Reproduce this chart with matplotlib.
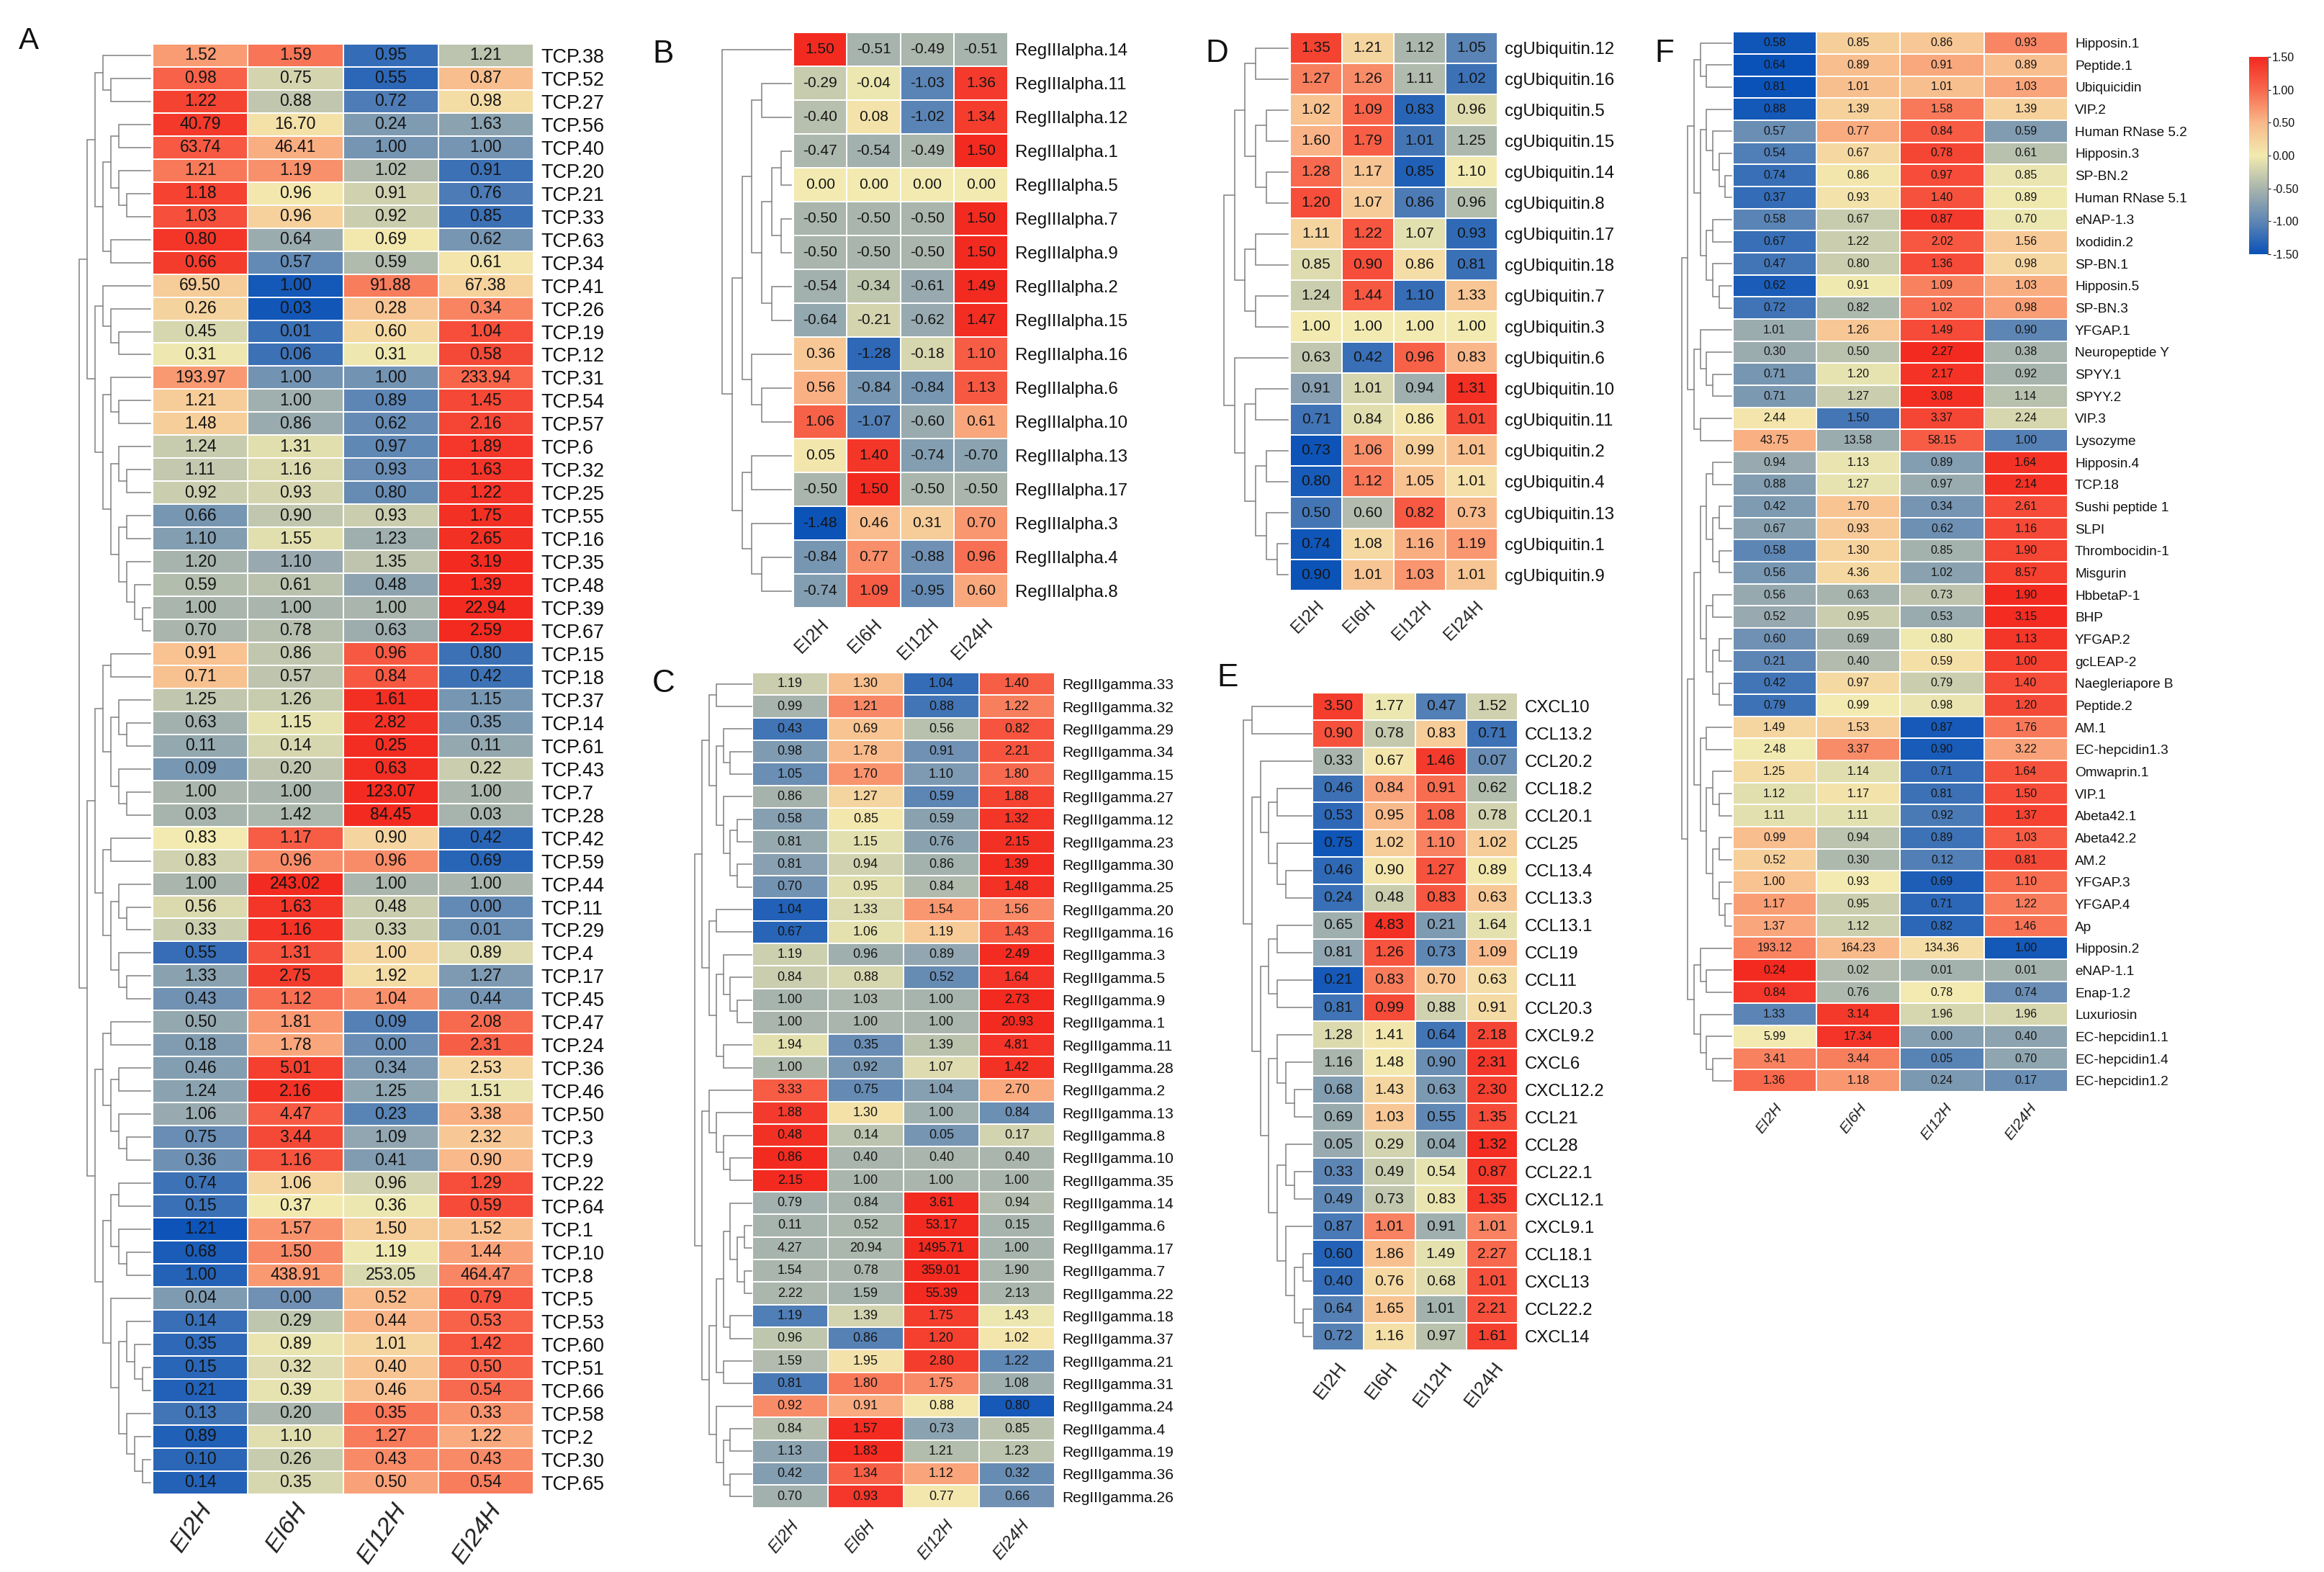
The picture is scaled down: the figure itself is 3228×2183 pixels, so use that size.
import numpy as np
import matplotlib
matplotlib.use("Agg")
import matplotlib.pyplot as plt
from matplotlib.colors import LinearSegmentedColormap
from matplotlib.transforms import ScaledTranslation

plt.rcParams['font.family'] = ['Liberation Sans', 'DejaVu Sans']

W, H, DPI = 3228, 2183, 100
conditions = ["EI2H", "EI6H", "EI12H", "EI24H"]

labels_a = ["TCP.%d" % i for i in [38,52,27,56,40,20,21,33,63,34,41,26,19,12,31,54,57,6,32,25,55,16,35,48,39,67,15,18,37,14,61,43,7,28,42,59,44,11,29,4,17,45,47,24,36,46,50,3,9,22,64,1,10,8,5,53,60,51,66,58,2,30,65]]
values_a = [
 [1.52,1.59,0.95,1.21],[0.98,0.75,0.55,0.87],[1.22,0.88,0.72,0.98],[40.79,16.70,0.24,1.63],[63.74,46.41,1.00,1.00],
 [1.21,1.19,1.02,0.91],[1.18,0.96,0.91,0.76],[1.03,0.96,0.92,0.85],[0.80,0.64,0.69,0.62],[0.66,0.57,0.59,0.61],
 [69.50,1.00,91.88,67.38],[0.26,0.03,0.28,0.34],[0.45,0.01,0.60,1.04],[0.31,0.06,0.31,0.58],[193.97,1.00,1.00,233.94],
 [1.21,1.00,0.89,1.45],[1.48,0.86,0.62,2.16],[1.24,1.31,0.97,1.89],[1.11,1.16,0.93,1.63],[0.92,0.93,0.80,1.22],
 [0.66,0.90,0.93,1.75],[1.10,1.55,1.23,2.65],[1.20,1.10,1.35,3.19],[0.59,0.61,0.48,1.39],[1.00,1.00,1.00,22.94],
 [0.70,0.78,0.63,2.59],[0.91,0.86,0.96,0.80],[0.71,0.57,0.84,0.42],[1.25,1.26,1.61,1.15],[0.63,1.15,2.82,0.35],
 [0.11,0.14,0.25,0.11],[0.09,0.20,0.63,0.22],[1.00,1.00,123.07,1.00],[0.03,1.42,84.45,0.03],[0.83,1.17,0.90,0.42],
 [0.83,0.96,0.96,0.69],[1.00,243.02,1.00,1.00],[0.56,1.63,0.48,0.00],[0.33,1.16,0.33,0.01],[0.55,1.31,1.00,0.89],
 [1.33,2.75,1.92,1.27],[0.43,1.12,1.04,0.44],[0.50,1.81,0.09,2.08],[0.18,1.78,0.00,2.31],[0.46,5.01,0.34,2.53],
 [1.24,2.16,1.25,1.51],[1.06,4.47,0.23,3.38],[0.75,3.44,1.09,2.32],[0.36,1.16,0.41,0.90],[0.74,1.06,0.96,1.29],
 [0.15,0.37,0.36,0.59],[1.21,1.57,1.50,1.52],[0.68,1.50,1.19,1.44],[1.00,438.91,253.05,464.47],[0.04,0.00,0.52,0.79],
 [0.14,0.29,0.44,0.53],[0.35,0.89,1.01,1.42],[0.15,0.32,0.40,0.50],[0.21,0.39,0.46,0.54],[0.13,0.20,0.35,0.33],
 [0.89,1.10,1.27,1.22],[0.10,0.26,0.43,0.43],[0.14,0.35,0.50,0.54]]

labels_b = ["RegIIIalpha.%d" % i for i in [14,11,12,1,5,7,9,2,15,16,6,10,13,17,3,4,8]]
values_b = [
 [1.50,-0.51,-0.49,-0.51],[-0.29,-0.04,-1.03,1.36],[-0.40,0.08,-1.02,1.34],[-0.47,-0.54,-0.49,1.50],[0.00,0.00,0.00,0.00],
 [-0.50,-0.50,-0.50,1.50],[-0.50,-0.50,-0.50,1.50],[-0.54,-0.34,-0.61,1.49],[-0.64,-0.21,-0.62,1.47],[0.36,-1.28,-0.18,1.10],
 [0.56,-0.84,-0.84,1.13],[1.06,-1.07,-0.60,0.61],[0.05,1.40,-0.74,-0.70],[-0.50,1.50,-0.50,-0.50],[-1.48,0.46,0.31,0.70],
 [-0.84,0.77,-0.88,0.96],[-0.74,1.09,-0.95,0.60]]

labels_c = ["RegIIIgamma.%d" % i for i in [33,32,29,34,15,27,12,23,30,25,20,16,3,5,9,1,11,28,2,13,8,10,35,14,6,17,7,22,18,37,21,31,24,4,19,36,26]]
values_c = [
 [1.19,1.30,1.04,1.40],[0.99,1.21,0.88,1.22],[0.43,0.69,0.56,0.82],[0.98,1.78,0.91,2.21],[1.05,1.70,1.10,1.80],
 [0.86,1.27,0.59,1.88],[0.58,0.85,0.59,1.32],[0.81,1.15,0.76,2.15],[0.81,0.94,0.86,1.39],[0.70,0.95,0.84,1.48],
 [1.04,1.33,1.54,1.56],[0.67,1.06,1.19,1.43],[1.19,0.96,0.89,2.49],[0.84,0.88,0.52,1.64],[1.00,1.03,1.00,2.73],
 [1.00,1.00,1.00,20.93],[1.94,0.35,1.39,4.81],[1.00,0.92,1.07,1.42],[3.33,0.75,1.04,2.70],[1.88,1.30,1.00,0.84],
 [0.48,0.14,0.05,0.17],[0.86,0.40,0.40,0.40],[2.15,1.00,1.00,1.00],[0.79,0.84,3.61,0.94],[0.11,0.52,53.17,0.15],
 [4.27,20.94,1495.71,1.00],[1.54,0.78,359.01,1.90],[2.22,1.59,55.39,2.13],[1.19,1.39,1.75,1.43],[0.96,0.86,1.20,1.02],
 [1.59,1.95,2.80,1.22],[0.81,1.80,1.75,1.08],[0.92,0.91,0.88,0.80],[0.84,1.57,0.73,0.85],[1.13,1.83,1.21,1.23],
 [0.42,1.34,1.12,0.32],[0.70,0.93,0.77,0.66]]

labels_d = ["cgUbiquitin.%d" % i for i in [12,16,5,15,14,8,17,18,7,3,6,10,11,2,4,13,1,9]]
values_d = [
 [1.35,1.21,1.12,1.05],[1.27,1.26,1.11,1.02],[1.02,1.09,0.83,0.96],[1.60,1.79,1.01,1.25],[1.28,1.17,0.85,1.10],
 [1.20,1.07,0.86,0.96],[1.11,1.22,1.07,0.93],[0.85,0.90,0.86,0.81],[1.24,1.44,1.10,1.33],[1.00,1.00,1.00,1.00],
 [0.63,0.42,0.96,0.83],[0.91,1.01,0.94,1.31],[0.71,0.84,0.86,1.01],[0.73,1.06,0.99,1.01],[0.80,1.12,1.05,1.01],
 [0.50,0.60,0.82,0.73],[0.74,1.08,1.16,1.19],[0.90,1.01,1.03,1.01]]

labels_e = ["CXCL10","CCL13.2","CCL20.2","CCL18.2","CCL20.1","CCL25","CCL13.4","CCL13.3","CCL13.1","CCL19","CCL11","CCL20.3",
            "CXCL9.2","CXCL6","CXCL12.2","CCL21","CCL28","CCL22.1","CXCL12.1","CXCL9.1","CCL18.1","CXCL13","CCL22.2","CXCL14"]
values_e = [
 [3.50,1.77,0.47,1.52],[0.90,0.78,0.83,0.71],[0.33,0.67,1.46,0.07],[0.46,0.84,0.91,0.62],[0.53,0.95,1.08,0.78],
 [0.75,1.02,1.10,1.02],[0.46,0.90,1.27,0.89],[0.24,0.48,0.83,0.63],[0.65,4.83,0.21,1.64],[0.81,1.26,0.73,1.09],
 [0.21,0.83,0.70,0.63],[0.81,0.99,0.88,0.91],[1.28,1.41,0.64,2.18],[1.16,1.48,0.90,2.31],[0.68,1.43,0.63,2.30],
 [0.69,1.03,0.55,1.35],[0.05,0.29,0.04,1.32],[0.33,0.49,0.54,0.87],[0.49,0.73,0.83,1.35],[0.87,1.01,0.91,1.01],
 [0.60,1.86,1.49,2.27],[0.40,0.76,0.68,1.01],[0.64,1.65,1.01,2.21],[0.72,1.16,0.97,1.61]]

labels_f = ["Hipposin.1","Peptide.1","Ubiquicidin","VIP.2","Human RNase 5.2","Hipposin.3","SP-BN.2","Human RNase 5.1","eNAP-1.3",
            "Ixodidin.2","SP-BN.1","Hipposin.5","SP-BN.3","YFGAP.1","Neuropeptide Y","SPYY.1","SPYY.2","VIP.3","Lysozyme",
            "Hipposin.4","TCP.18","Sushi peptide 1","SLPI","Thrombocidin-1","Misgurin","HbbetaP-1","BHP","YFGAP.2","gcLEAP-2",
            "Naegleriapore B","Peptide.2","AM.1","EC-hepcidin1.3","Omwaprin.1","VIP.1","Abeta42.1","Abeta42.2","AM.2","YFGAP.3",
            "YFGAP.4","Ap","Hipposin.2","eNAP-1.1","Enap-1.2","Luxuriosin","EC-hepcidin1.1","EC-hepcidin1.4","EC-hepcidin1.2"]
values_f = [
 [0.58,0.85,0.86,0.93],[0.64,0.89,0.91,0.89],[0.81,1.01,1.01,1.03],[0.88,1.39,1.58,1.39],[0.57,0.77,0.84,0.59],
 [0.54,0.67,0.78,0.61],[0.74,0.86,0.97,0.85],[0.37,0.93,1.40,0.89],[0.58,0.67,0.87,0.70],[0.67,1.22,2.02,1.56],
 [0.47,0.80,1.36,0.98],[0.62,0.91,1.09,1.03],[0.72,0.82,1.02,0.98],[1.01,1.26,1.49,0.90],[0.30,0.50,2.27,0.38],
 [0.71,1.20,2.17,0.92],[0.71,1.27,3.08,1.14],[2.44,1.50,3.37,2.24],[43.75,13.58,58.15,1.00],[0.94,1.13,0.89,1.64],
 [0.88,1.27,0.97,2.14],[0.42,1.70,0.34,2.61],[0.67,0.93,0.62,1.16],[0.58,1.30,0.85,1.90],[0.56,4.36,1.02,8.57],
 [0.56,0.63,0.73,1.90],[0.52,0.95,0.53,3.15],[0.60,0.69,0.80,1.13],[0.21,0.40,0.59,1.00],[0.42,0.97,0.79,1.40],
 [0.79,0.99,0.98,1.20],[1.49,1.53,0.87,1.76],[2.48,3.37,0.90,3.22],[1.25,1.14,0.71,1.64],[1.12,1.17,0.81,1.50],
 [1.11,1.11,0.92,1.37],[0.99,0.94,0.89,1.03],[0.52,0.30,0.12,0.81],[1.00,0.93,0.69,1.10],[1.17,0.95,0.71,1.22],
 [1.37,1.12,0.82,1.46],[193.12,164.23,134.36,1.00],[0.24,0.02,0.01,0.01],[0.84,0.76,0.78,0.74],[1.33,3.14,1.96,1.96],
 [5.99,17.34,0.00,0.40],[3.41,3.44,0.05,0.70],[1.36,1.18,0.24,0.17]]

# Cluster trees: (merge level, child, child); 0 is the next leaf, top to bottom.
tree_a = (9,
 (8,(7,(6,0,(5,0,0)),(6,(5,(4,0,0),(4,0,(3,0,0))),(5,0,0))),
    (7,(6,0,(5,0,(4,0,0))),(6,(5,0,(4,0,0)),(5,(4,0,(3,0,0)),(4,(3,0,0),(3,0,(2,0,(1,0,0))))))))
 ,
 (8,(7,(6,(5,0,0),(5,(4,0,(3,0,0)),(4,0,(3,0,0)))),(6,(5,0,0),(5,(4,0,(3,0,0)),(4,0,(3,0,0))))),
    (7,(6,(5,0,0),(5,(4,0,0),(4,0,(3,0,0)))),
       (6,(5,(4,0,0),(4,0,(3,0,0))),(5,0,(4,(3,0,(2,0,(1,0,0))),(3,0,(2,0,(1,0,0)))))))))
tree_b = (7,0,(6,(5,(4,(3,0,0),(3,(2,(1,0,0),(1,0,0)),(2,0,0))),(4,0,(3,0,0))),(5,(4,0,0),(4,0,(3,0,0)))))
tree_c = (8,
 (7,(6,(5,0,0),(5,(4,0,(3,0,0)),(4,0,(3,(2,0,0),(2,0,0))))),(6,(5,0,0),(5,(4,0,(3,0,(2,0,0))),(4,0,0)))),
 (7,(6,0,(5,0,(4,0,(3,0,0)))),
    (6,(5,(4,(3,0,(2,(1,0,0),(1,0,0))),(3,0,0)),(4,0,0)),(5,0,(4,(3,0,0),(3,0,0))))))
tree_d = (6,
 (5,(4,(3,0,0),(3,(2,0,0),(2,0,0))),(4,(3,0,0),(3,0,0))),
 (5,0,(4,(3,0,0),(3,(2,0,0),(2,0,(1,0,0))))))
tree_e = (8,(7,0,0),
 (7,(6,0,(5,(4,0,0),(4,0,(3,0,0)))),
    (6,(5,(4,0,0),(4,0,0)),(5,(4,0,(3,0,(2,0,0))),(4,(3,0,(2,0,0)),(3,0,(2,(1,0,0),(1,0,0))))))))
tree_f = (8,
 (7,(6,(5,0,(4,0,0)),(5,(4,0,(3,0,(2,0,(1,0,0)))),(4,(3,0,0),(3,0,(2,0,0))))),
    (6,(5,0,(4,0,(3,0,0))),(5,0,0))),
 (7,(6,(5,(4,(3,0,0),(3,(2,0,0),(2,0,0))),(4,(3,0,0),(3,(2,0,0),(2,0,0)))),
       (5,(4,0,0),(4,(3,0,(2,0,0)),(3,(2,0,0),(2,0,(1,0,0)))))),
    (6,(5,0,(4,0,0)),(5,0,(4,0,(3,0,0))))))

cmap = LinearSegmentedColormap.from_list("heat", [
    (0.0, "#0a52b8"), (1/6, "#5f87b5"), (2/6, "#a9b5ad"), (0.5, "#f2ebb0"),
    (4/6, "#f9b98a"), (5/6, "#f8694e"), (1.0, "#f32a20")])

fig = plt.figure(figsize=(W/DPI, H/DPI), dpi=DPI, facecolor="white")

def px(v):
    return v*72.0/DPI

def axes_px(x0, y0, x1, y1):
    return fig.add_axes([x0/W, 1-y1/H, (x1-x0)/W, (y1-y0)/H])

def row_z(values):
    a = np.asarray(values, float)
    sd = a.std(axis=1, ddof=1, keepdims=True)
    sd[sd == 0] = 1
    return (a-a.mean(axis=1, keepdims=True))/sd

def draw_tree(ax, node, nxt):
    if node == 0:
        y = nxt[0]+0.5
        nxt[0] += 1
        return 0, y
    lev, a, b = node
    la, ya = draw_tree(ax, a, nxt)
    lb, yb = draw_tree(ax, b, nxt)
    ax.plot([la, lev, lev, lb], [ya, ya, yb, yb], color="#858585", lw=1.15,
            solid_joinstyle="miter", clip_on=False)
    return lev, (ya+yb)/2

def panel(letter, letter_xy, letter_px, values, labels, tree, box, root_x, leaf_x,
          fs_cell, fs_label, fs_x, angle, dx, pad, italic=False):
    x0, y0, x1, y1 = box
    n = len(labels)
    ax = axes_px(x0, y0, x1, y1)
    ax.pcolormesh(row_z(values), cmap=cmap, vmin=-1.5, vmax=1.5,
                  edgecolors="white", linewidth=1.4)
    ax.set_xlim(0, 4)
    ax.set_ylim(n, 0)
    for s in ax.spines.values():
        s.set_visible(False)
    for r, row in enumerate(values):
        for c, v in enumerate(row):
            ax.text(c+0.5, r+0.5, "%.2f" % v, ha="center", va="center",
                    fontsize=px(fs_cell), color="#151515")
    ax.yaxis.tick_right()
    ax.set_yticks(np.arange(n)+0.5, labels, fontsize=px(fs_label), color="#111111")
    ax.tick_params(axis="y", length=0, pad=px(10))
    ax.set_xticks(np.arange(4)+0.5, conditions, fontsize=px(fs_x), rotation=angle,
                  style="italic" if italic else "normal", color="#222222")
    ax.tick_params(axis="x", length=0, pad=px(pad))
    for t in ax.get_xticklabels():
        t.set_transform(t.get_transform()+ScaledTranslation(dx/DPI, 0, fig.dpi_scale_trans))

    tx = axes_px(root_x, y0, leaf_x, y1)
    tx.set_xlim(tree[0], 0)
    tx.set_ylim(n, 0)
    tx.axis("off")
    draw_tree(tx, tree, [0])

    fig.text(letter_xy[0]/W, 1-letter_xy[1]/H, letter, fontsize=px(letter_px),
             ha="left", va="baseline", color="#111111")

panel("A", (26, 68), 42, values_a, labels_a, tree_a, (212, 61, 741, 2074.5), 110, 209, 23, 27, 34, 55, -11.6, 7, True)
panel("B", (906, 87), 44, values_b, labels_b, tree_b, (1102, 45, 1399.5, 844), 1003.4, 1099, 21, 24, 25, 45, -12, 11)
panel("C", (906, 961), 44, values_c, labels_c, tree_c, (1044.6, 934, 1465, 2093.8), 965, 1044, 18, 21, 23, 50, -8, 13, True)
panel("D", (1674, 86), 44, values_d, labels_d, tree_d, (1792, 45, 2080, 819.6), 1699.6, 1789, 21, 24, 24, 45, -11, 11)
panel("E", (1690, 953), 44, values_e, labels_e, tree_e, (1823, 961.5, 2108, 1874.6), 1727, 1821.6, 21, 24, 26, 52, -11, 12)
panel("F", (2298, 86), 44, values_f, labels_f, tree_f, (2406.5, 44.3, 2872, 1516), 2335.5, 2405, 16, 19, 21, 52, -7, 13, True)

# colour key
cax = axes_px(3124, 79, 3150, 353)
grad = np.linspace(1.5, -1.5, 256).reshape(-1, 1)
cax.imshow(grad, cmap=cmap, vmin=-1.5, vmax=1.5, aspect="auto", extent=[0, 1, -1.5, 1.5])
cax.set_xticks([])
cax.yaxis.tick_right()
ticks = [1.5, 1.0, 0.5, 0.0, -0.5, -1.0, -1.5]
cax.set_yticks(ticks, ["%.2f" % t for t in ticks], fontsize=px(16), color="#111111")
cax.tick_params(axis="y", length=px(4), width=0.9, pad=px(2), color="#333333")
for name, s in cax.spines.items():
    s.set_visible(name == "right")
    s.set_color("#666666")
    s.set_linewidth(0.9)

fig.savefig("out.png", dpi=DPI, facecolor="white")
